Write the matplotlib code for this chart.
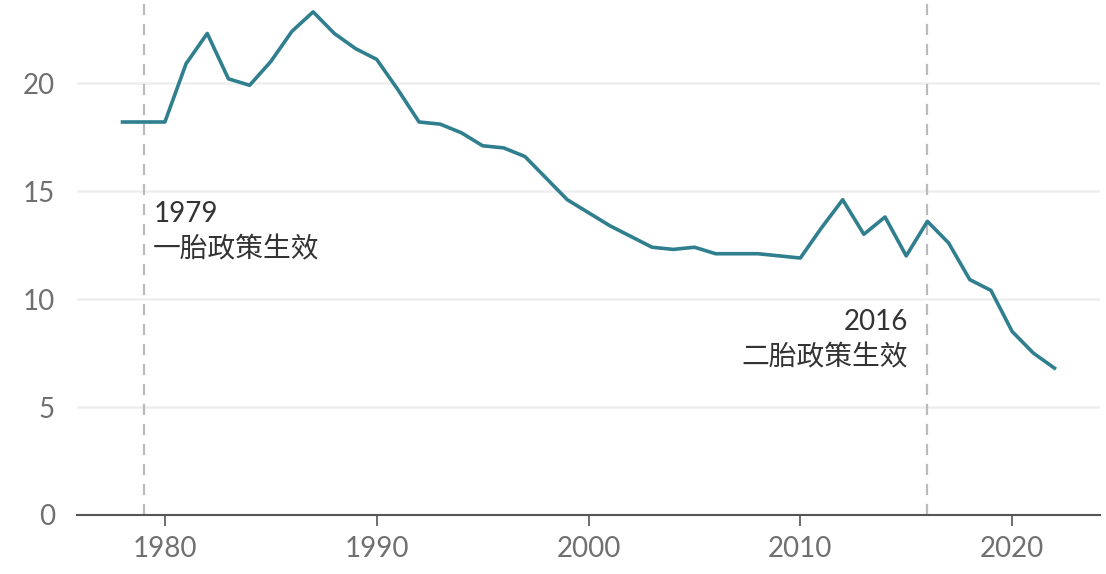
import matplotlib
matplotlib.use("Agg")
import matplotlib.pyplot as plt

plt.rcParams['font.family'] = ['Lato', 'Noto Sans CJK SC', 'DejaVu Sans']

# 出生率 (‰)
years = list(range(1978, 2023))
birth_rate = [18.2, 18.2, 18.2, 20.9, 22.3, 20.2, 19.9, 21.0, 22.4, 23.3,
              22.3, 21.6, 21.1, 19.7, 18.2, 18.1, 17.7, 17.1, 17.0, 16.6,
              15.6, 14.6, 14.0, 13.4, 12.9, 12.4, 12.3, 12.4, 12.1, 12.1,
              12.1, 12.0, 11.9, 13.3, 14.6, 13.0, 13.8, 12.0, 13.6, 12.6,
              10.9, 10.4, 8.5, 7.5, 6.8]

policy_years = [1979, 2016]
policy_labels = ["1979\n一胎政策生效", "2016\n二胎政策生效"]
x_ticks = [1980, 1990, 2000, 2010, 2020]
y_ticks = [0, 5, 10, 15, 20]

fig = plt.figure(figsize=(11.06, 5.74), dpi=100)
ax = fig.add_axes([0.0696, 0.1028, 0.925, 0.8972])

for y in y_ticks[1:]:
    ax.axhline(y, color='#eeeeee', lw=1.8, zorder=0)

for yr in policy_years:
    ax.axvline(yr, color='#bbbbbb', lw=1.6, ls=(0, (5, 4)), zorder=1)

ax.plot(years, birth_rate, color='#2f7f8f', lw=2.6, zorder=3)

# 注释
ax.text(policy_years[0] + 0.45, 14.55, policy_labels[0], ha='left', va='top',
        fontsize=20, color='#333333', linespacing=1.45)
ax.text(policy_years[1] - 0.9, 9.55, policy_labels[1], ha='right', va='top',
        fontsize=20, color='#333333', linespacing=1.45, multialignment='right')

ax.set_xlim(1975.85, 2024.15)
ax.set_ylim(0, 23.85)
ax.set_xticks(x_ticks)
ax.set_yticks(y_ticks)

for s in ['top', 'right', 'left']:
    ax.spines[s].set_visible(False)
ax.spines['bottom'].set_color('#555555')
ax.spines['bottom'].set_linewidth(1.5)

ax.tick_params(axis='x', colors='#555555', length=8, width=1.2, labelsize=20,
               labelcolor='#707070', pad=7)
ax.tick_params(axis='y', length=0, labelsize=20, labelcolor='#707070', pad=16)

fig.savefig('out.png', dpi=100)
